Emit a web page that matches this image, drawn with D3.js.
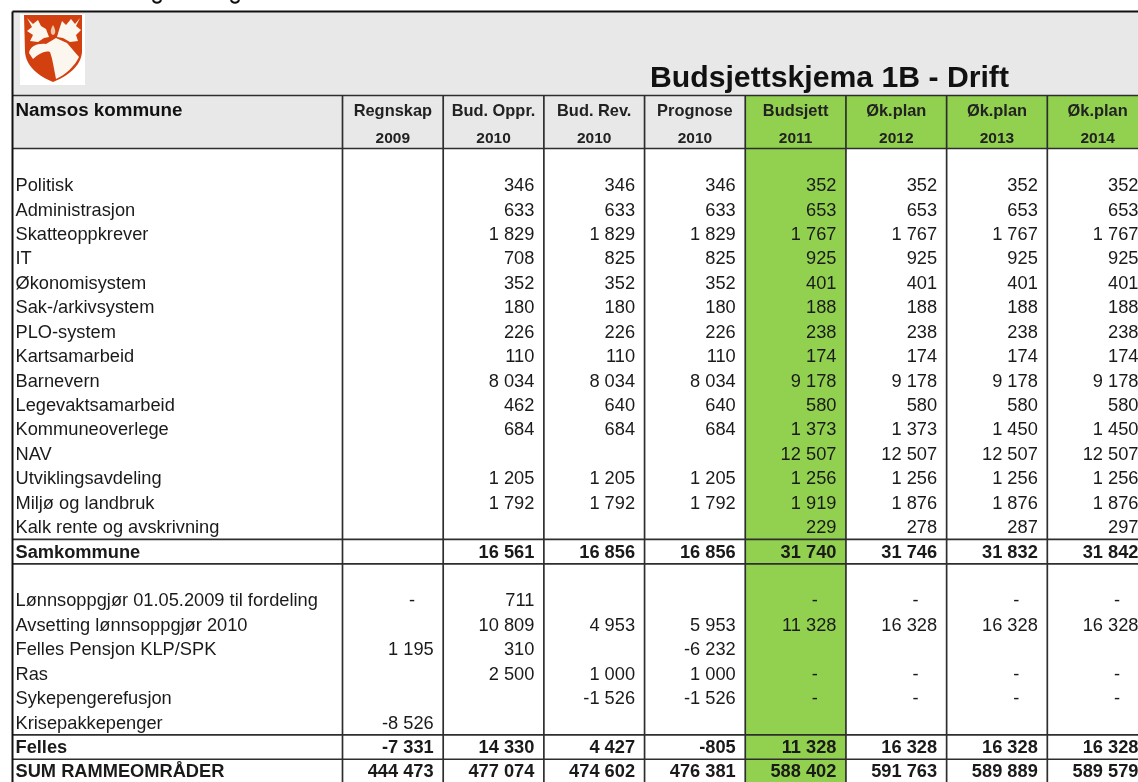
<!DOCTYPE html>
<html>
<head>
<meta charset="utf-8">
<script src="https://cdn.jsdelivr.net/npm/d3@7"></script>
<style>
  html, body { margin: 0; padding: 0; background: #fff; overflow: hidden; }
  svg { display: block; font-family: "Liberation Sans", Arial, sans-serif; filter: blur(0.4px); }
</style>
</head>
<body>
<div id="chart"></div>
<script>
const WIDTH = 1138;
const HEIGHT = 782;

const title = 'Budsjettskjema 1B - Drift';
const orgName = 'Namsos kommune';
const colNames = ['Regnskap', 'Bud. Oppr.', 'Bud. Rev.', 'Prognose', 'Budsjett', 'Øk.plan', 'Øk.plan', 'Øk.plan'];
const colYears = ['2009', '2010', '2010', '2010', '2011', '2012', '2013', '2014'];

// row labels, '' = empty spacer row
const rowLabels = ['', 'Politisk', 'Administrasjon', 'Skatteoppkrever', 'IT', 'Økonomisystem', 'Sak-/arkivsystem',
  'PLO-system', 'Kartsamarbeid', 'Barnevern', 'Legevaktsamarbeid', 'Kommuneoverlege', 'NAV', 'Utviklingsavdeling',
  'Miljø og landbruk', 'Kalk rente og avskrivning', 'Samkommune', '', 'Lønnsoppgjør 01.05.2009 til fordeling',
  'Avsetting lønnsoppgjør 2010', 'Felles Pensjon KLP/SPK', 'Ras', 'Sykepengerefusjon', 'Krisepakkepenger',
  'Felles', 'SUM RAMMEOMRÅDER'];
const boldRows = ['Samkommune', 'Felles', 'SUM RAMMEOMRÅDER'];

// one array per column, null = empty cell, 0 = shown as a dash
const regnskap2009 = [null, null, null, null, null, null, null, null, null, null, null, null, null, null, null, null, null,
  null, 0, null, 1195, null, null, -8526, -7331, 444473];
const budOppr2010 = [null, 346, 633, 1829, 708, 352, 180, 226, 110, 8034, 462, 684, null, 1205, 1792, null, 16561,
  null, 711, 10809, 310, 2500, null, null, 14330, 477074];
const budRev2010 = [null, 346, 633, 1829, 825, 352, 180, 226, 110, 8034, 640, 684, null, 1205, 1792, null, 16856,
  null, null, 4953, null, 1000, -1526, null, 4427, 474602];
const prognose2010 = [null, 346, 633, 1829, 825, 352, 180, 226, 110, 8034, 640, 684, null, 1205, 1792, null, 16856,
  null, null, 5953, -6232, 1000, -1526, null, -805, 476381];
const budsjett2011 = [null, 352, 653, 1767, 925, 401, 188, 238, 174, 9178, 580, 1373, 12507, 1256, 1919, 229, 31740,
  null, 0, 11328, null, 0, 0, null, 11328, 588402];
const plan2012 = [null, 352, 653, 1767, 925, 401, 188, 238, 174, 9178, 580, 1373, 12507, 1256, 1876, 278, 31746,
  null, 0, 16328, null, 0, 0, null, 16328, 591763];
const plan2013 = [null, 352, 653, 1767, 925, 401, 188, 238, 174, 9178, 580, 1450, 12507, 1256, 1876, 287, 31832,
  null, 0, 16328, null, 0, 0, null, 16328, 589889];
const plan2014 = [null, 352, 653, 1767, 925, 401, 188, 238, 174, 9178, 580, 1450, 12507, 1256, 1876, 297, 31842,
  null, 0, 16328, null, 0, 0, null, 16328, 589579];
const columns = [regnskap2009, budOppr2010, budRev2010, prognose2010, budsjett2011, plan2012, plan2013, plan2014];

const GREEN = '#92d14f';
const GREY = '#e8e8e8';
const LINE = '#2e2e2e';

const svg = d3.select('#chart').append('svg')
  .attr('width', WIDTH)
  .attr('height', HEIGHT);

const x = d3.scaleBand().domain(d3.range(columns.length)).range([342.5, 1148]);
const y = d3.scaleBand().domain(d3.range(rowLabels.length)).range([148.5, 148.5 + 24.43 * rowLabels.length]);

const fmt = d3.formatLocale({ decimal: ',', thousands: ' ', grouping: [3], currency: ['', ''], minus: '-' }).format(',d');
const LEFT = 12.5, TOP = 11.5, HEAD_TOP = 95.5, HEAD_BOTTOM = 148.5;

// backgrounds
svg.append('rect').attr('x', LEFT).attr('y', TOP).attr('width', WIDTH - LEFT).attr('height', HEAD_BOTTOM - TOP).attr('fill', GREY);
svg.selectAll('.planhead').data(d3.range(4, 8)).join('rect')
  .attr('x', d => x(d)).attr('y', HEAD_TOP)
  .attr('width', x.bandwidth()).attr('height', HEAD_BOTTOM - HEAD_TOP)
  .attr('fill', GREEN);
svg.append('rect').attr('x', x(4)).attr('y', HEAD_BOTTOM).attr('width', x.bandwidth()).attr('height', HEIGHT - HEAD_BOTTOM).attr('fill', GREEN);

// logo
const logo = svg.append('g');
logo.append('rect').attr('x', 20).attr('y', 14).attr('width', 65).attr('height', 71).attr('fill', '#fff');
logo.append('path').attr('fill', '#d2400f')
  .attr('d', 'M24,15 H82 V52 C81,66 68,76 53,82 C38,76 26,66 25,52 Z');
logo.append('path').attr('fill', '#fbf6ee')
  .attr('d', 'M27,18 L33,24 L38,20 L41,26 L46,29 L49,37 L44,38 L38,42 L30,41 L33,35 L27,31 L32,27 Z');
logo.append('path').attr('fill', '#fbf6ee')
  .attr('d', 'M80,18 L75,24 L71,19 L66,25 L62,21 L59,30 L57,37 L63,38 L70,42 L78,41 L76,35 L81,30 L76,26 Z');
logo.append('path').attr('fill', '#fbf6ee')
  .attr('d', 'M29,53 C30,46 38,43 46,44 L56,38 L67,43 L79,57 C75,66 65,75 56,79 C54,70 53,60 50,52 C44,50 38,55 33,59 Z');
logo.append('path').attr('fill', '#e9c9a8').attr('d', 'M53,25 C56,30 56,34 53,35 C50,34 50,30 53,25 Z');

// bits of a cut off line above the frame (only the tails of two letters show)
svg.selectAll('.cut').data([157, 235]).join('path')
  .attr('d', d => `M${d - 4},0 C${d - 3},3.5 ${d + 3},3.5 ${d + 4},0`)
  .attr('fill', 'none').attr('stroke', '#111').attr('stroke-width', 2);

// title and header texts
svg.append('text').attr('x', 650).attr('y', 87).attr('font-size', 30.2).attr('font-weight', 700).attr('fill', '#111').text(title);
svg.append('text').attr('x', 15.5).attr('y', 116).attr('font-size', 18.8).attr('font-weight', 700).attr('fill', '#111').text(orgName);
const heads = svg.selectAll('.head').data(colNames).join('g');
heads.append('text')
  .attr('x', (d, i) => x(i) + x.bandwidth() / 2).attr('y', 116)
  .attr('text-anchor', 'middle').attr('font-size', 16.4).attr('font-weight', 700).attr('fill', '#222')
  .text(d => d);
heads.append('text')
  .attr('x', (d, i) => x(i) + x.bandwidth() / 2).attr('y', 143)
  .attr('text-anchor', 'middle').attr('font-size', 15.5).attr('font-weight', 700).attr('fill', '#222')
  .text((d, i) => colYears[i]);

// row labels
const isBold = i => boldRows.includes(rowLabels[i]);
svg.selectAll('.label').data(rowLabels).join('text')
  .attr('x', 15.5)
  .attr('y', (d, i) => y(i) + y.bandwidth() / 2 + 6)
  .attr('font-size', 18.25)
  .attr('font-weight', (d, i) => isBold(i) ? 700 : 400)
  .attr('fill', '#1a1a1a')
  .text(d => d);

// value cells
columns.forEach((col, c) => {
  const cells = col.map((v, row) => ({ v, row })).filter(d => d.v !== null);
  svg.selectAll('.col' + c).data(cells).join('text')
    .attr('x', d => x(c) + x.bandwidth() - (d.v === 0 ? 28 : 9.5))
    .attr('y', d => y(d.row) + y.bandwidth() / 2 + 6)
    .attr('text-anchor', 'end')
    .attr('font-size', 18.25)
    .attr('font-weight', d => isBold(d.row) ? 700 : 400)
    .attr('fill', '#1a1a1a')
    .text(d => d.v === 0 ? '-' : fmt(d.v));
});

// grid lines
const hLines = [HEAD_TOP, HEAD_BOTTOM, y(16), y(16) + y.bandwidth(), y(24), y(25)];
svg.selectAll('.hline').data(hLines).join('line')
  .attr('x1', LEFT).attr('x2', WIDTH).attr('y1', d => d).attr('y2', d => d)
  .attr('stroke', LINE).attr('stroke-width', 1.7);
svg.selectAll('.vline').data(d3.range(columns.length)).join('line')
  .attr('x1', d => x(d)).attr('x2', d => x(d)).attr('y1', HEAD_TOP).attr('y2', HEIGHT)
  .attr('stroke', LINE).attr('stroke-width', 1.7);
svg.append('line').attr('x1', LEFT).attr('x2', LEFT).attr('y1', TOP).attr('y2', HEIGHT).attr('stroke', '#111').attr('stroke-width', 2);
svg.append('line').attr('x1', LEFT).attr('x2', WIDTH).attr('y1', TOP).attr('y2', TOP).attr('stroke', '#111').attr('stroke-width', 2);
</script>
</body>
</html>
